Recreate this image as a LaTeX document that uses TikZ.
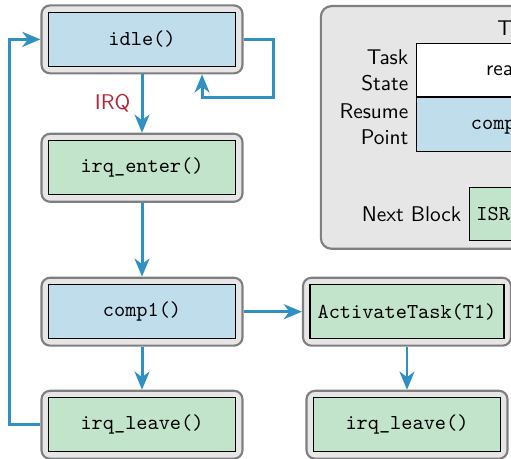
\documentclass[tikz,border=0pt]{standalone}
\usepackage{xcolor}
\usepackage{tikz}
\usetikzlibrary{shapes.geometric, arrows.meta, positioning, calc}
\definecolor{funcblue}{HTML}{C0DDEB}
\definecolor{isrgreen}{HTML}{C2E4CB}
\definecolor{framegray}{HTML}{E6E6E6}
\definecolor{edgegray}{HTML}{7F7F7F}
\definecolor{flowblue}{HTML}{2E90C3}
\definecolor{irqred}{HTML}{B7243A}
\tikzset{block/.style={rectangle, rounded corners=4pt, minimum width=94.4pt, minimum height=31.9pt, draw=edgegray, line width=1pt, fill=framegray, font=\ttfamily,
  path picture={\draw[sharp corners, draw=black, line width=0.5pt, fill=#1] ([shift={(3.3pt,-3.3pt)}]path picture bounding box.north west) rectangle ([shift={(-3.3pt,3.3pt)}]path picture bounding box.south east);}}}
\tikzstyle{panelbox} = [rectangle, rounded corners=5pt, draw=edgegray, line width=1pt, fill=framegray]
\tikzstyle{cell} = [rectangle, minimum width=88pt, minimum height=25pt, draw=black, line width=0.5pt, text centered]
\tikzstyle{arrow} = [line width=1.4pt, draw=flowblue, ->, >={Stealth[length=8.5pt, width=7pt, inset=2.6pt]}]

\begin{document}
\begin{tikzpicture}[font=\sffamily]
\useasboundingbox (0,0) rectangle (240pt,-215.5pt);
\clip (0,0) rectangle (240pt,-215.5pt);
% Flow
\node (idle) [block=funcblue] at (66.7pt,-18.5pt) {idle()};
\node (enter) [block=isrgreen, below=27.4pt of idle] {irq\_enter()};
\node (comp) [block=funcblue, below=34.7pt of enter] {comp1()};
\node (leave) [block=isrgreen, below=20.2pt of comp] {irq\_leave()};
\node (activate) [block=isrgreen, minimum width=97.7pt, right=27.4pt of comp] {ActivateTask(T1)};
\node (leavetask) [block=isrgreen, below=20.2pt of activate] {irq\_leave()};

% Task panel
\node (panel) [panelbox, anchor=north west, minimum width=160pt, minimum height=114pt] at (150.2pt,-2.35pt) {};
\node (state) [cell, fill=white, anchor=north west] at (195.3pt,-20.2pt) {ready};
\node (resume) [cell, fill=funcblue, below=0pt of state, font=\ttfamily] {comp1()};
\node (title) [above=0pt of state] {T1};
\node (statelbl) [left=0pt of state, align=right] {Task\\State};
\node (resumelbl) [left=0pt of resume, align=right] {Resume\\Point};
\node (isr) [cell, fill=isrgreen, anchor=north west, minimum width=0pt, text width=60pt, align=left, font=\ttfamily] at (220.2pt,-87.8pt) {ISR};
\node (nextlbl) [left=0pt of isr] {Next Block};

% Arrows
\draw [arrow] (idle) -- node[midway, left, xshift=-1.5pt, text=irqred] {IRQ} (enter);
\draw [arrow] (idle.east) -| ++(14pt,-27.5pt) -| ([xshift=28.2pt]idle.south);
\draw [arrow] (enter) -- (comp);
\draw [arrow] (comp) -- (leave);
\draw [arrow] (comp) -- (activate);
\draw [arrow] (activate) -- (leavetask);
\draw [arrow] (leave.west) -- ++(-14.6pt,0) |- (idle.west);
\end{tikzpicture}
\end{document}
